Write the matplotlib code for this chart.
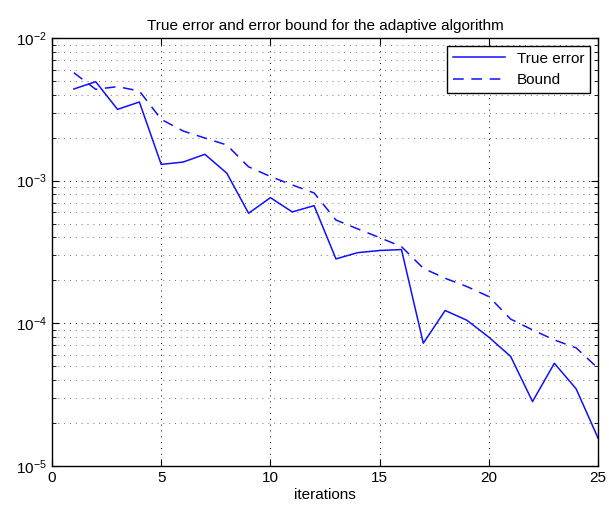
import numpy as np
import matplotlib.pyplot as plt
from matplotlib.ticker import LogLocator, NullFormatter

plt.rcParams['font.family'] = ['Liberation Sans', 'DejaVu Sans']
plt.rcParams['mathtext.fontset'] = 'custom'
plt.rcParams['mathtext.rm'] = 'Liberation Sans'

iters = np.arange(1, 26)
true_error = [4.39e-3, 4.94e-3, 3.16e-3, 3.56e-3, 1.30e-3, 1.35e-3, 1.53e-3, 1.13e-3,
              5.91e-4, 7.6e-4, 6.04e-4, 6.68e-4, 2.83e-4, 3.13e-4, 3.24e-4, 3.29e-4,
              7.26e-5, 1.23e-4, 1.05e-4, 8.0e-5, 5.86e-5, 2.83e-5, 5.25e-5, 3.47e-5,
              1.57e-5]
bound = [5.71e-3, 4.37e-3, 4.56e-3, 4.25e-3, 2.69e-3, 2.23e-3, 1.99e-3, 1.78e-3,
         1.25e-3, 1.07e-3, 9.33e-4, 8.2e-4, 5.3e-4, 4.59e-4, 3.99e-4, 3.45e-4,
         2.43e-4, 2.07e-4, 1.81e-4, 1.54e-4, 1.07e-4, 9.0e-5, 7.65e-5, 6.73e-5,
         4.84e-5]

fig = plt.figure(figsize=(6.09, 5.12), dpi=100)
ax = fig.add_axes([0.0854, 0.0898, 0.8966, 0.836])

ax.semilogy(iters, true_error, '-', color='#1010ff', lw=1.1, label='True error')
ax.semilogy(iters, bound, '--', color='#1010ff', lw=1.1, dashes=(7, 5), label='Bound')

ax.set_xlim(0, 25)
ax.set_ylim(1e-5, 1e-2)
ax.set_xticks([0, 5, 10, 15, 20, 25])
ax.yaxis.set_major_locator(LogLocator(base=10, numticks=10))
ax.yaxis.set_minor_locator(LogLocator(base=10, subs=np.arange(2, 10), numticks=20))
ax.yaxis.set_minor_formatter(NullFormatter())

ax.grid(True, which='major', linestyle=(0, (1, 5)), color='k', lw=0.7)
ax.grid(True, which='minor', axis='y', linestyle=(0, (1, 5)), color='0.45', lw=0.7)
ax.tick_params(which='both', direction='in', top=True, right=True, labelsize=11)
ax.tick_params(which='major', length=5)
ax.tick_params(which='minor', length=3)
for s in ax.spines.values():
    s.set_linewidth(1)

ax.set_xlabel('iterations', fontsize=11, labelpad=2)
ax.set_title('True error and error bound for the adaptive algorithm', fontsize=11)

leg = ax.legend(loc='upper right', fontsize=11, fancybox=False, framealpha=1,
                edgecolor='k', borderaxespad=0.5, handlelength=3.4)
leg.get_frame().set_linewidth(1)

fig.savefig('out.png', dpi=100)
